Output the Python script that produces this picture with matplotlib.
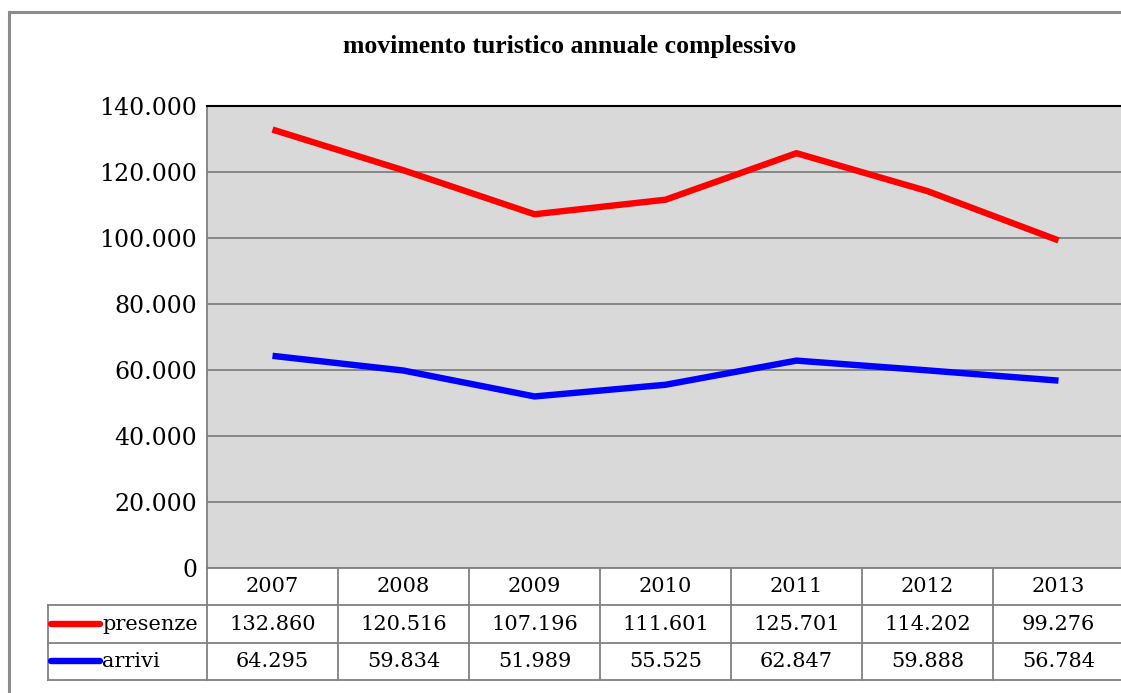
import matplotlib
matplotlib.use("Agg")
import matplotlib.pyplot as plt
from matplotlib.lines import Line2D
from matplotlib.ticker import FuncFormatter

# ---- data ----
years = ["2007", "2008", "2009", "2010", "2011", "2012", "2013"]
presenze = [132860, 120516, 107196, 111601, 125701, 114202, 99276]
arrivi = [64295, 59834, 51989, 55525, 62847, 59888, 56784]
series_names = ["presenze", "arrivi"]
series_colors = ["#ff0000", "#0000ff"]
title = "movimento turistico annuale complessivo"
y_ticks = [0, 20000, 40000, 60000, 80000, 100000, 120000, 140000]


def it_fmt(v, pos=None):
    v = int(round(v))
    return f"{v:,}".replace(",", ".")


W, H = 1121, 693
fig = plt.figure(figsize=(W / 100, H / 100), dpi=100)
fig.patch.set_facecolor("white")

GRID = "#808080"
SERIF = ["Liberation Serif", "DejaVu Serif"]
TFONT = ["DejaVu Serif"]

# outer chart frame
fy = 1 - 12 / H
fx = 8.5 / W
fig.add_artist(Line2D([fx, fx], [0, fy], transform=fig.transFigure, color="#8c8c8c", lw=2.2))
fig.add_artist(Line2D([fx, 1.01], [fy, fy], transform=fig.transFigure, color="#8c8c8c", lw=2.2))

# title
fig.text(570 / W, 1 - 46 / H, title, ha="center", va="center",
         fontfamily=SERIF, fontweight="bold", fontsize=18.5)

# main plot area
left_px, right_px, top_px, bot_px = 207, 1124, 106, 568
ax = fig.add_axes([left_px / W, 1 - bot_px / H, (right_px - left_px) / W, (bot_px - top_px) / H])
ax.set_facecolor("#d9d9d9")
x = list(range(len(years)))
ax.set_xlim(-0.5, len(years) - 0.5)
ax.set_ylim(0, 140000)
ax.set_yticks(y_ticks)
ax.yaxis.set_major_formatter(FuncFormatter(it_fmt))
ax.set_xticks([])
ax.tick_params(axis="y", length=0, pad=7, labelsize=17)
for lab in ax.get_yticklabels():
    lab.set_fontfamily("DejaVu Serif")
ax.grid(axis="y", color=GRID, lw=1.3)
ax.set_axisbelow(True)
for s in ["right", "bottom"]:
    ax.spines[s].set_visible(False)
ax.spines["left"].set_color(GRID)
ax.spines["left"].set_linewidth(1.3)
ax.spines["top"].set_color("black")
ax.spines["top"].set_linewidth(1.5)

ax.plot(x, presenze, color=series_colors[0], lw=4.6, solid_capstyle="butt")
ax.plot(x, arrivi, color=series_colors[1], lw=4.6, solid_capstyle="butt")

# data table
tab_left_px, tab_bot_px = 48, 680
unit = (right_px - left_px) / len(years)
lab_w = (left_px - tab_left_px) / unit
tab = fig.add_axes([tab_left_px / W, 1 - tab_bot_px / H, (right_px - tab_left_px) / W,
                    (tab_bot_px - bot_px) / H])
tab.set_xlim(-0.5 - lab_w, len(years) - 0.5)
tab.set_ylim(0, 3)
tab.axis("off")

xl = -0.5 - lab_w
xr = len(years) - 0.5
lw_t = 1.3
# horizontal lines
tab.plot([-0.5, xr + 0.1], [3, 3], color=GRID, lw=lw_t, clip_on=False)
for yy in [2, 1, 0]:
    tab.plot([xl, xr + 0.1], [yy, yy], color=GRID, lw=lw_t, clip_on=False)
# vertical lines
for k in range(len(years) + 1):
    tab.plot([-0.5 + k, -0.5 + k], [0, 3], color=GRID, lw=lw_t, clip_on=False)
tab.plot([xl, xl], [0, 2], color=GRID, lw=lw_t, clip_on=False)

for i, yr in enumerate(years):
    tab.text(i, 2.5, yr, ha="center", va="center", fontfamily=TFONT, fontsize=15)
rows = [presenze, arrivi]
for r, (name, vals, col) in enumerate(zip(series_names, rows, series_colors)):
    yc = 1.5 - r
    for i, v in enumerate(vals):
        tab.text(i, yc, it_fmt(v), ha="center", va="center", fontfamily=TFONT, fontsize=15)
    k0 = xl + 3 / unit
    k1 = xl + 52 / unit
    tab.plot([k0, k1], [yc, yc], color=col, lw=4.6, solid_capstyle="round")
    tab.text(xl + 54 / unit, yc, name, ha="left", va="center", fontfamily=TFONT, fontsize=15)

fig.savefig("out.png", dpi=100)
